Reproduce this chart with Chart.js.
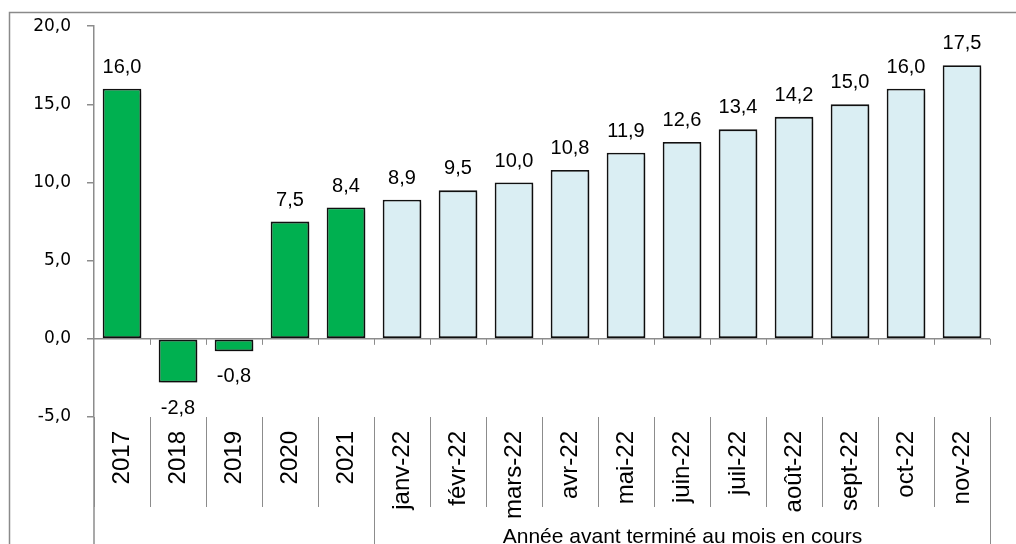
<!DOCTYPE html>
<html><head><meta charset="utf-8">
<script src="https://cdn.jsdelivr.net/npm/chart.js@4/dist/chart.umd.min.js"></script>
<style>html,body{margin:0;padding:0;background:#fff;overflow:hidden}</style>
</head><body>
<canvas id="c" width="1016" height="544"></canvas>
<script>
const categories = ['2017','2018','2019','2020','2021','janv-22','févr-22','mars-22','avr-22','mai-22','juin-22','juil-22','août-22','sept-22','oct-22','nov-22'];
const values = [16.0,-2.8,-0.8,7.5,8.4,8.9,9.5,10.0,10.8,11.9,12.6,13.4,14.2,15.0,16.0,17.5];
const yearCount = 5; // first 5 categories are calendar years
const yTicks = [-5,0,5,10,15,20];
const groupLabel = 'Année avant terminé au mois en cours';

const GREEN = '#00B050', LIGHT = '#DAEEF3', GRAY = '#8C8C8C';
const fmt = v => v.toFixed(1).replace('.', ',');

const decor = {
  id: 'decor',
  beforeDraw(chart) {
    const ctx = chart.ctx;
    ctx.save();
    ctx.strokeStyle = '#8A8A8A'; ctx.lineWidth = 1.5;
    ctx.strokeRect(9.5, 12.5, 1200, 1200);
    ctx.restore();
  },
  beforeDatasetsDraw(chart) {
    const ctx = chart.ctx;
    ctx.save();
    ctx.shadowColor = 'rgba(0,0,0,0.35)';
    ctx.shadowOffsetX = 2; ctx.shadowOffsetY = 2; ctx.shadowBlur = 3;
  },
  afterDatasetsDraw(chart) {
    const ctx = chart.ctx;
    ctx.restore();
    const x = chart.scales.x, y = chart.scales.y, ca = chart.chartArea;
    const y0 = y.getPixelForValue(0);
    const half = (x.getPixelForValue(1) - x.getPixelForValue(0)) / 2;
    ctx.save();
    // zero line
    ctx.strokeStyle = GRAY; ctx.lineWidth = 1.5;
    ctx.beginPath(); ctx.moveTo(ca.left, y0); ctx.lineTo(ca.right, y0); ctx.stroke();
    ctx.lineWidth = 1;
    for (let i = 1; i <= categories.length; i++) {
      const bx = Math.round(x.getPixelForValue(i) - half) + 0.5;
      ctx.beginPath(); ctx.moveTo(bx, y0); ctx.lineTo(bx, y0 + 6); ctx.stroke();
    }
    // y axis extension and group separators
    ctx.lineWidth = 1.5;
    ctx.beginPath(); ctx.moveTo(ca.left, ca.bottom); ctx.lineTo(ca.left, chart.height); ctx.stroke();
    ctx.lineWidth = 1;
    const gx = Math.round(x.getPixelForValue(yearCount) - half) + 0.5;
    const rx = Math.round(x.getPixelForValue(categories.length - 1) + half) + 0.5;
    [gx, rx].forEach(px => { ctx.beginPath(); ctx.moveTo(px, ca.bottom); ctx.lineTo(px, chart.height); ctx.stroke(); });
    // group label
    ctx.fillStyle = '#000';
    ctx.font = '21px "Liberation Sans", Arial, sans-serif';
    ctx.textAlign = 'center'; ctx.textBaseline = 'alphabetic';
    ctx.fillText(groupLabel, (gx + rx) / 2, ca.bottom + 126);
    // value labels
    ctx.font = '20px "Liberation Sans", Arial, sans-serif';
    chart.getDatasetMeta(0).data.forEach((bar, i) => {
      const v = values[i];
      const ty = v >= 0 ? bar.y - 16 : bar.y + 31;
      ctx.fillText(fmt(v), bar.x, ty);
    });
    ctx.restore();
  }
};

new Chart(document.getElementById('c'), {
  type: 'bar',
  data: {
    labels: categories,
    datasets: [{
      data: values,
      backgroundColor: ctx => ctx.dataIndex < yearCount ? GREEN : LIGHT,
      borderColor: '#111',
      borderWidth: 1.8,
      borderSkipped: false,
      categoryPercentage: 1,
      barPercentage: 0.69
    }]
  },
  options: {
    responsive: false,
    animation: false,
    devicePixelRatio: 1,
    layout: { padding: { left: 0, right: 26, top: 24, bottom: 0 } },
    plugins: { legend: { display: false }, tooltip: { enabled: false } },
    scales: {
      x: {
        grid: { display: true, drawOnChartArea: false, drawTicks: true, tickLength: 90, color: GRAY, lineWidth: 1, offset: true },
        border: { display: false },
        ticks: { autoSkip: false, minRotation: 90, maxRotation: 90, padding: -76, color: '#000',
                 font: { family: '"Liberation Sans Narrow", "Liberation Sans", sans-serif', size: 24 } },
        afterFit(s) { s.height = 127; }
      },
      y: {
        min: -5, max: 20,
        afterBuildTicks(s) { s.ticks = yTicks.map(v => ({ value: v })); },
        ticks: { padding: 16, color: '#000', callback: v => fmt(v),
                 font: { family: '"DejaVu Sans", sans-serif', size: 17 } },
        grid: { drawOnChartArea: false, tickLength: 7, color: GRAY, lineWidth: 1.5 },
        border: { display: true, color: GRAY, width: 1.5 },
        afterFit(s) { s.width = 94; }
      }
    }
  },
  plugins: [decor]
});
</script>
</body></html>
